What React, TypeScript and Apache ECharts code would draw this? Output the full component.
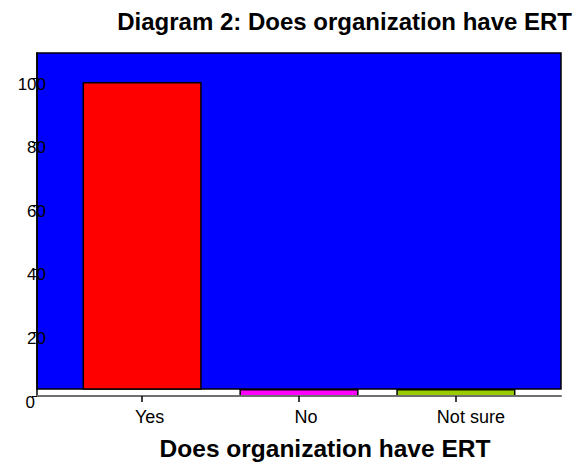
import React, { useEffect, useRef } from "react";
import * as echarts from "echarts";

const titleText = "Diagram 2: Does organization have ERT";
const xAxisTitle = "Does organization have ERT";
const categories = ["Yes", "No", "Not sure"];
const barBase = [2.2, 0, 0];
const barTop = [98.6, 2, 2];
const barColors = ["#FF0000", "#FF00FF", "#99CC00"];
const yTicks = [0, 20, 40, 60, 80, 100];
const plotFloor = 2.2;
const yMax = 108;
const xMin = -0.67;
const xMax = 2.67;
const barWidthRatio = 0.75;

const FONT = "'Liberation Sans', Arial, sans-serif";

export default function App() {
  const ref = useRef<HTMLDivElement>(null);
  useEffect(() => {
    if (!ref.current) return;
    const chart = echarts.init(ref.current, null, { renderer: "svg" });
    const catPos = categories.map((_, i) => i);
    const labelPad = [15, 14, 30];
    const richCat: any = {};
    labelPad.forEach((p, i) => {
      richCat["c" + i] = { fontSize: 18, fontFamily: FONT, color: "#000", padding: [0, 0, 0, p] };
    });
    chart.setOption({
      animation: false,
      backgroundColor: "#FFFFFF",
      textStyle: { fontFamily: FONT },
      title: {
        text: titleText,
        right: 5,
        top: 4,
        textStyle: { fontSize: 24, fontWeight: "bold", color: "#000", fontFamily: FONT },
      },
      grid: { left: 37, right: 21, top: 53, bottom: 71, containLabel: false },
      xAxis: {
        type: "value",
        min: xMin,
        max: xMax,
        z: 10,
        splitLine: { show: false },
        axisLine: { show: true, onZero: false, lineStyle: { color: "#707070", width: 2 } },
        axisTick: {
          show: true,
          customValues: catPos,
          length: 6,
          lineStyle: { color: "#000", width: 1.5 },
        },
        axisLabel: {
          customValues: catPos,
          margin: 12,
          color: "#000",
          fontSize: 18,
          fontFamily: FONT,
          formatter: (v: number) => {
            const i = Math.round(v);
            return `{c${i}|${categories[i]}}`;
          },
          rich: richCat,
        },
        name: xAxisTitle,
        nameLocation: "middle",
        nameGap: 40,
        nameTextStyle: {
          fontSize: 24.5,
          fontWeight: "bold",
          color: "#000",
          fontFamily: FONT,
          padding: [0, 0, 0, 52],
        },
      },
      yAxis: {
        type: "value",
        min: 0,
        max: yMax,
        z: 10,
        splitLine: { show: false },
        axisLine: { show: true, onZero: false, lineStyle: { color: "#000", width: 1.5 } },
        axisTick: {
          show: true,
          customValues: yTicks,
          length: 5,
          lineStyle: { color: "#000", width: 1 },
        },
        axisLabel: {
          customValues: yTicks,
          margin: -9,
          color: "#000",
          fontSize: 17,
          fontFamily: FONT,
          verticalAlign: "top",
          lineHeight: 12,
          formatter: (v: number) => (v === 0 ? `{z|${v}}` : `{n|${v}}`),
          rich: {
            n: { fontSize: 17, fontFamily: FONT, color: "#000", lineHeight: 12 },
            z: { fontSize: 17, fontFamily: FONT, color: "#000", lineHeight: 12, padding: [0, 11, 0, 0] },
          },
        },
      },
      series: [
        {
          type: "custom",
          z: 3,
          data: catPos.map((x, i) => [x, barBase[i], barTop[i]]),
          encode: { x: 0, y: [1, 2] },
          renderItem: (params: any, api: any) => {
            const x = api.value(0);
            const base = api.value(1);
            const top = api.value(2);
            const pTop = api.coord([x - barWidthRatio / 2, top]);
            const pBot = api.coord([x + barWidthRatio / 2, base]);
            return {
              type: "rect",
              shape: {
                x: pTop[0],
                y: pTop[1],
                width: pBot[0] - pTop[0],
                height: pBot[1] - pTop[1],
              },
              style: {
                fill: barColors[params.dataIndex],
                stroke: "#000",
                lineWidth: 1.5,
              },
            };
          },
          markArea: {
            silent: true,
            z: 1,
            label: { show: false },
            itemStyle: { color: "#0000FF", borderColor: "#000", borderWidth: 1.5 },
            data: [[{ yAxis: plotFloor }, { yAxis: yMax }]],
          },
        },
      ],
    });
    return () => chart.dispose();
  }, []);
  return (
    <div
      ref={ref}
      style={{ position: "fixed", left: 0, top: 0, width: 582, height: 467 }}
    />
  );
}
